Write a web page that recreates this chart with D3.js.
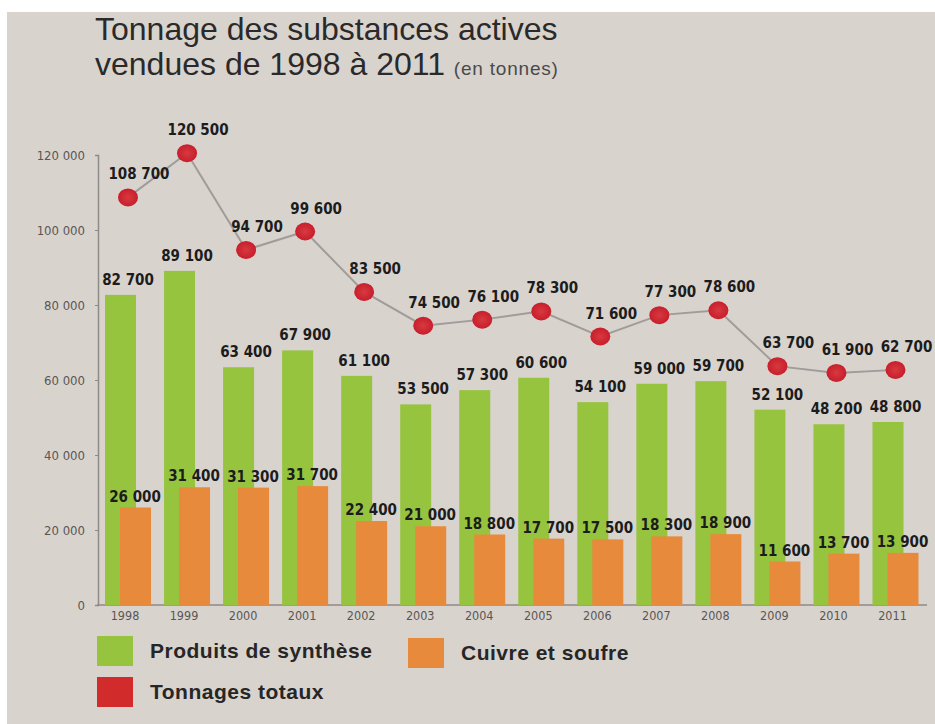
<!DOCTYPE html>
<html>
<head>
<meta charset="utf-8">
<script src="https://cdn.jsdelivr.net/npm/d3@7"></script>
<style>
  body { margin: 0; background: #ffffff; }
  svg { display: block; }
</style>
</head>
<body>
<div id="chart"></div>
<script>
var years = ["1998","1999","2000","2001","2002","2003","2004","2005","2006","2007","2008","2009","2010","2011"];
var syntheseValues = [82700, 89100, 63400, 67900, 61100, 53500, 57300, 60600, 54100, 59000, 59700, 52100, 48200, 48800];
var cuivreValues = [26000, 31400, 31300, 31700, 22400, 21000, 18800, 17700, 17500, 18300, 18900, 11600, 13700, 13900];
var totalValues = [108700, 120500, 94700, 99600, 83500, 74500, 76100, 78300, 71600, 77300, 78600, 63700, 61900, 62700];
var yTicks = [0, 20000, 40000, 60000, 80000, 100000, 120000];
var legendLabels = ["Produits de synthèse", "Cuivre et soufre", "Tonnages totaux"];

var width = 935, height = 724;
var green = "#97c43f", orange = "#e88a3b", red = "#cf2431";
var labelFont = "'DejaVu Sans Condensed', 'DejaVu Sans', sans-serif";

var svg = d3.select("#chart").append("svg")
    .attr("width", width)
    .attr("height", height);

// background with the white strip top and left
svg.append("rect").attr("width", width).attr("height", height).attr("fill", "#ffffff");
svg.append("rect")
    .attr("x", 7).attr("y", 12)
    .attr("width", width - 7).attr("height", height - 12)
    .attr("fill", "#d9d3ce");

var defs = svg.append("defs");
var grad = defs.append("radialGradient").attr("id", "dotGrad");
grad.append("stop").attr("offset", "0%").attr("stop-color", "#d63a3f");
grad.append("stop").attr("offset", "100%").attr("stop-color", "#c81e2c");

// title
var title = svg.append("text")
    .attr("font-family", "'Liberation Sans', Arial, sans-serif")
    .attr("fill", "#2a2a2a");
title.append("tspan").attr("x", 95).attr("y", 40).attr("font-size", 32).text("Tonnage des substances actives");
title.append("tspan").attr("x", 95).attr("y", 75).attr("font-size", 32).text("vendues de 1998 à 2011 ");
title.append("tspan").attr("font-size", 19).attr("letter-spacing", 0.8).attr("fill", "#4a4a4a").text("(en tonnes)");

// scales
var x = d3.scalePoint().domain(years).range([128, 895.5]);
var y = d3.scaleLinear().domain([0, 120000]).range([605, 155]);
var fmt = function(v){ return d3.format(",")(v).replace(/,/g, " "); };

// axes
var yAxis = d3.axisLeft(y).tickValues(yTicks).tickSize(3).tickPadding(10).tickFormat(fmt);
svg.append("g")
    .attr("transform", "translate(98,0)")
    .call(yAxis)
    .call(function(g){
        g.select(".domain").attr("stroke", "#8e8a88").attr("stroke-width", 1.5);
        g.selectAll(".tick line").attr("stroke", "#8e8a88");
        g.selectAll("text")
            .attr("fill", "#5a5654")
            .attr("font-size", 13)
            .attr("font-family", labelFont);
    });

svg.append("line")
    .attr("x1", 97).attr("x2", 927)
    .attr("y1", y(0)).attr("y2", y(0))
    .attr("stroke", "#8e8a88").attr("stroke-width", 1.5);

svg.selectAll(".yearLabel")
    .data(years)
    .enter()
     .append("text")
      .attr("class", "yearLabel")
      .attr("x", function(d){ return x(d) - 3; })
      .attr("y", 620)
      .attr("text-anchor", "middle")
      .attr("font-size", 12.5)
      .attr("font-family", labelFont)
      .attr("fill", "#5a5654")
      .text(function(d){ return d; });

// bars
svg.selectAll(".synth")
    .data(syntheseValues)
    .enter()
     .append("rect")
      .attr("class", "synth")
      .attr("x", function(d,i){ return x(years[i]) - 23; })
      .attr("y", function(d){ return y(d); })
      .attr("width", 31)
      .attr("height", function(d){ return y(0) - y(d); })
      .attr("fill", green);

svg.selectAll(".cuivre")
    .data(cuivreValues)
    .enter()
     .append("rect")
      .attr("class", "cuivre")
      .attr("x", function(d,i){ return x(years[i]) - 8; })
      .attr("y", function(d){ return y(d); })
      .attr("width", 31)
      .attr("height", function(d){ return y(0) - y(d); })
      .attr("fill", orange);

// totals line and dots
var line = d3.line()
    .x(function(d,i){ return x(years[i]); })
    .y(function(d){ return y(d); });

svg.append("path")
    .datum(totalValues)
    .attr("d", line)
    .attr("fill", "none")
    .attr("stroke", "#a09c9a")
    .attr("stroke-width", 2);

svg.selectAll(".dot")
    .data(totalValues)
    .enter()
     .append("ellipse")
      .attr("class", "dot")
      .attr("cx", function(d,i){ return x(years[i]); })
      .attr("cy", function(d){ return y(d); })
      .attr("rx", 10)
      .attr("ry", 9)
      .attr("fill", "url(#dotGrad)");

// value labels
function addLabels(cls, values, dx, dy){
    svg.selectAll("." + cls)
        .data(values)
        .enter()
         .append("text")
          .attr("class", cls)
          .attr("x", function(d,i){ return x(years[i]) + dx; })
          .attr("y", function(d){ return y(d) + dy; })
          .attr("text-anchor", "middle")
          .attr("font-family", labelFont)
          .attr("font-weight", "bold")
          .attr("font-size", 15)
          .attr("fill", "#1c1c1c")
          .text(function(d){ return fmt(d); });
}
addLabels("totLabel", totalValues, 11, -18);
addLabels("synthLabel", syntheseValues, 0, -10);
addLabels("cuivreLabel", cuivreValues, 7, -6);

// legend
var legendItems = [
    {label: legendLabels[0], color: green, x: 97, y: 636},
    {label: legendLabels[1], color: orange, x: 408, y: 638},
    {label: legendLabels[2], color: "#d12b2c", x: 97, y: 677}
];
var legend = svg.selectAll(".legend")
    .data(legendItems)
    .enter()
     .append("g")
      .attr("class", "legend")
      .attr("transform", function(d){ return "translate(" + d.x + "," + d.y + ")"; });

legend.append("rect")
    .attr("width", 36)
    .attr("height", 30)
    .attr("fill", function(d){ return d.color; });

legend.append("text")
    .attr("x", 53)
    .attr("y", 22)
    .attr("font-family", "'Liberation Sans', Arial, sans-serif")
    .attr("font-weight", "bold")
    .attr("font-size", 21)
    .attr("letter-spacing", 0.5)
    .attr("fill", "#262626")
    .text(function(d){ return d.label; });
</script>
</body>
</html>
